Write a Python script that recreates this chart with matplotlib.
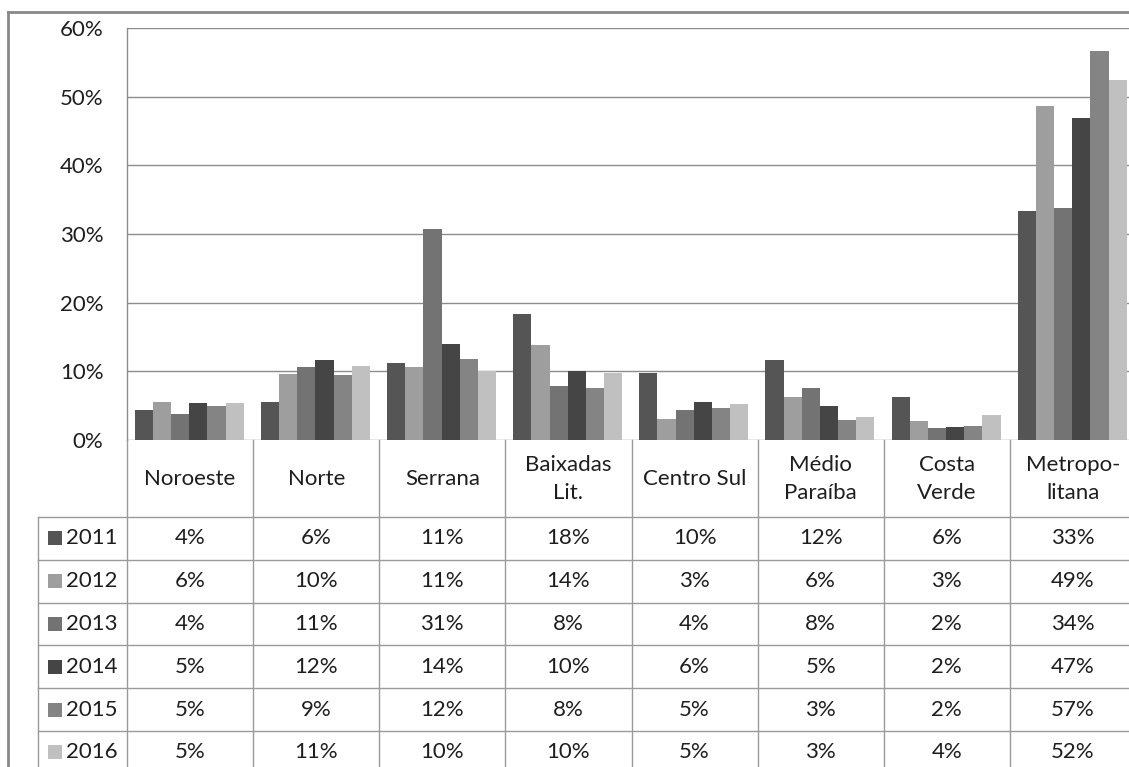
import matplotlib
matplotlib.use("Agg")
import matplotlib.pyplot as plt
from matplotlib.patches import Rectangle
from matplotlib.lines import Line2D

plt.rcParams['font.family'] = ['Lato', 'DejaVu Sans']

categories = ["Noroeste", "Norte", "Serrana", "Baixadas\nLit.", "Centro Sul",
              "Médio\nParaíba", "Costa\nVerde", "Metropo-\nlitana"]
years = ["2011", "2012", "2013", "2014", "2015", "2016"]
v2011 = [4.4, 5.6, 11.2, 18.4, 9.7, 11.6, 6.2, 33.4]
v2012 = [5.6, 9.6, 10.6, 13.8, 3.1, 6.2, 2.8, 48.7]
v2013 = [3.8, 10.6, 30.7, 7.8, 4.4, 7.6, 1.7, 33.8]
v2014 = [5.4, 11.6, 14.0, 10.0, 5.6, 5.0, 1.85, 46.9]
v2015 = [5.0, 9.4, 11.8, 7.6, 4.7, 2.9, 2.0, 56.7]
v2016 = [5.4, 10.8, 10.0, 9.7, 5.2, 3.3, 3.6, 52.4]
series = [v2011, v2012, v2013, v2014, v2015, v2016]
colors = ["#555555", "#9e9e9e", "#737373", "#454545", "#848484", "#c0c0c0"]
yticks = [0, 10, 20, 30, 40, 50, 60]

W, H = 1129, 767
fig = plt.figure(figsize=(W / 100, H / 100), dpi=100)

def px_rect(x0, y0, x1, y1):
    return [x0 / W, 1 - y1 / H, (x1 - x0) / W, (y1 - y0) / H]

FS = 16
TC = "#1e1e1e"
# plot area (extends slightly past the right edge, as in the reference)
PL, PR, PT, PB = 127, 1136, 28, 440
ax = fig.add_axes(px_rect(PL, PT, PR, PB))
n = len(categories)
ax.set_xlim(0, n)
ax.set_ylim(0, 60)
bw = 0.864 / 6
for i, (vals, c) in enumerate(zip(series, colors)):
    xs = [k + 0.062 + bw * (i + 0.5) for k in range(n)]
    ax.bar(xs, vals, width=bw, color=c, zorder=3, linewidth=0)
ax.set_yticks(yticks)
ax.set_yticklabels([f"{t}%" for t in yticks], fontsize=FS, color=TC)
ax.tick_params(axis='y', length=0, pad=17)
ax.set_xticks([])
ax.grid(axis='y', color="#8c8c8c", linewidth=1.0, zorder=0)
for s in ['top', 'right', 'bottom']:
    ax.spines[s].set_visible(False)
ax.spines['left'].set_color("#8c8c8c")
ax.spines['left'].set_linewidth(1.0)

# table axes in pixel coordinates
tx = fig.add_axes([0, 0, 1, 1], zorder=5)
tx.set_xlim(0, W)
tx.set_ylim(H, 0)
tx.axis('off')
tx.patch.set_alpha(0)

lc = "#9a9a9a"
colw = (PR - PL) / n
edges = [PL + k * colw for k in range(n + 1)]
row_top = 517
rowh = 42.8
LX = 38
for e in edges:
    tx.add_line(Line2D([e, e], [PB, H], color=lc, lw=1.0))
tx.add_line(Line2D([LX, LX], [row_top, H], color=lc, lw=1.0))
for r in range(len(years)):
    y = row_top + r * rowh
    tx.add_line(Line2D([LX, PR], [y, y], color=lc, lw=1.0))

for k, cat in enumerate(categories):
    tx.text((edges[k] + edges[k + 1]) / 2, 479, cat, ha='center', va='center',
            fontsize=FS, color=TC, linespacing=1.5)

for r, (yr, vals, c) in enumerate(zip(years, series, colors)):
    yc = row_top + (r + 0.5) * rowh
    tx.add_patch(Rectangle((48, yc - 7), 14, 14, color=c, lw=0))
    tx.text(66, yc, yr, ha='left', va='center', fontsize=FS, color=TC)
    for k, v in enumerate(vals):
        tx.text((edges[k] + edges[k + 1]) / 2, yc, f"{round(v):d}%",
                ha='center', va='center', fontsize=FS, color=TC)

# outer chart border
tx.add_line(Line2D([8, 8], [12, H], color="#888888", lw=2.0))
tx.add_line(Line2D([8, W], [12, 12], color="#888888", lw=2.0))

fig.savefig("out.png", dpi=100)
